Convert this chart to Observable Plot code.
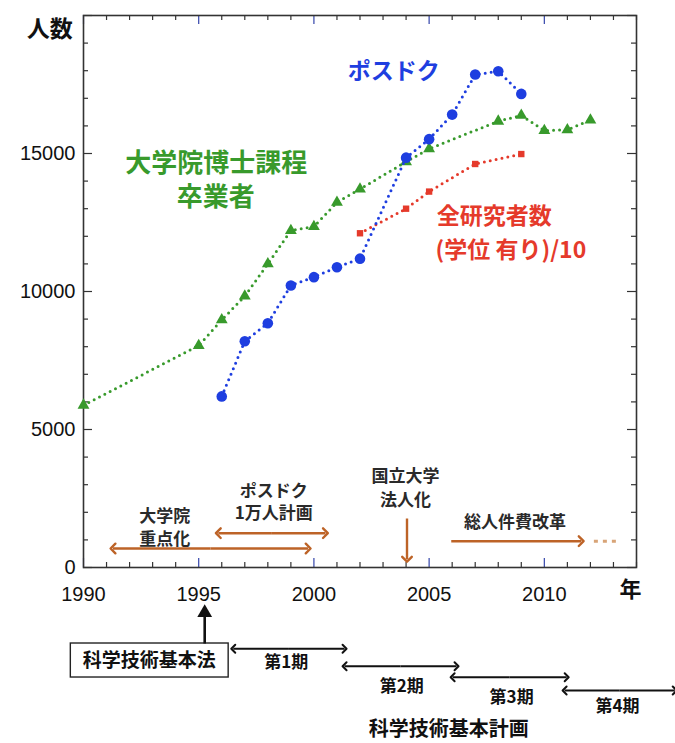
<!DOCTYPE html>
<html>
<head>
<meta charset="utf-8">
<script src="https://cdn.jsdelivr.net/npm/d3@7"></script>
<script src="https://cdn.jsdelivr.net/npm/@observablehq/plot@0.6"></script>
<style>
  html, body { margin: 0; padding: 0; background: #fff; }
  svg { display: block; }
</style>
</head>
<body>
<div id="chart"></div>
<script>
// ---- data ----
// 大学院博士課程卒業者
const gradYears  = [1990, 1995, 1996, 1997, 1998, 1999, 2000, 2001, 2002, 2004, 2005, 2008, 2009, 2010, 2011, 2012];
const gradValues = [5880, 8040, 8970, 9830, 11000, 12210, 12350, 13230, 13710, 14700, 15170, 16170, 16380, 15830, 15860, 16210];
// ポスドク
const postdocYears  = [1996, 1997, 1998, 1999, 2000, 2001, 2002, 2004, 2005, 2006, 2007, 2008, 2009];
const postdocValues = [6200, 8200, 8850, 10220, 10520, 10880, 11190, 14850, 15520, 16410, 17860, 17980, 17160];
// 全研究者数（学位 有り）/10
const resYears  = [2002, 2004, 2005, 2007, 2009];
const resValues = [12110, 13000, 13620, 14620, 14980];

// axis ticks
const yTickLabels = [0, 5000, 10000, 15000];
const xTickLabels = [1990, 1995, 2000, 2005, 2010];
const yTicks = d3.range(0, 20001, 1000);
const xTicks = d3.range(1990, 2015, 1);

// science & technology basic plan periods
const phaseNames = ["第1期", "第2期", "第3期", "第4期"];
const phaseStart = [1996.5, 2001.33, 2006.02, 2010.88];
const phaseEnd   = [2001.33, 2006.19, 2010.97, 2015.66];

// ---- build tables ----
const grad = gradYears.map((x, i) => ({x, y: gradValues[i]}));
const postdoc = postdocYears.map((x, i) => ({x, y: postdocValues[i]}));
const res = resYears.map((x, i) => ({x, y: resValues[i]}));

const yMajor = yTicks.filter(d => d % 5000 === 0);
const yMinor = yTicks.filter(d => d % 5000 !== 0);
const xMajor = xTicks.filter(d => d % 5 === 0);
const xMinor = xTicks.filter(d => d % 5 !== 0);

const phaseArrowY = [-2946, -3576, -3975, -4457];
const phaseLabelX = [1998.80, 2003.81, 2008.58, 2013.18];
const phaseLabelY = [-3431, -4312, -4699, -5036];
const phases = phaseNames.map((name, i) => ({
  name, x1: phaseStart[i], x2: phaseEnd[i], y: phaseArrowY[i], lx: phaseLabelX[i], ly: phaseLabelY[i]
}));

// ---- styles ----
const W = 675, H = 743;
const mL = 83, mR = 39, mT = 15, mB = 176;
const pw = W - mL - mR, ph = H - mT - mB;
const JP = "'Noto Sans CJK JP', 'Noto Sans', sans-serif";
const NUM = "'Liberation Sans', Arial, sans-serif";
const BLUE = "#1e3ee0", GREEN = "#389a2c", RED = "#e53a2b", BROWN = "#bd6327", AX = "#333";

const dotted = {strokeWidth: 3, strokeDasharray: "0 6", strokeLinecap: "round"};

// a double-headed arrow drawn as two links from the middle outwards
function doubleArrow(data, opts) {
  const {x1, x2, y, ...rest} = opts;
  const mid = d => (x1(d) + x2(d)) / 2;
  return [
    Plot.link(data, {x1: mid, x2: x1, y1: y, y2: y, markerEnd: "arrow", ...rest}),
    Plot.link(data, {x1: mid, x2: x2, y1: y, y2: y, markerEnd: "arrow", ...rest})
  ];
}

const chart = Plot.plot({
  width: W, height: H,
  marginLeft: mL, marginRight: mR, marginTop: mT, marginBottom: mB,
  style: {background: "#fff", fontFamily: NUM, fontSize: "20px", overflow: "visible"},
  x: {domain: [1990, 2014]},
  y: {domain: [0, 20000]},
  marks: [
    // axes
    Plot.axisX(xTickLabels, {tickSize: 0, tickPadding: 19, fontSize: 20, fontFamily: NUM, fill: "#111", tickFormat: d => String(d), label: null}),
    Plot.axisY(yTickLabels, {tickSize: 0, tickPadding: 8, fontSize: 20, fontFamily: NUM, fill: "#111", tickFormat: d => String(d), label: null}),
    // inward ticks
    Plot.tickY(yMinor, {y: d => d, insetRight: pw - 5, stroke: AX, strokeWidth: 1.2}),
    Plot.tickY(yMajor, {y: d => d, insetRight: pw - 9, stroke: AX, strokeWidth: 1.2}),
    Plot.tickY(yMinor, {y: d => d, insetLeft: pw - 5, stroke: AX, strokeWidth: 1.2}),
    Plot.tickY(yMajor, {y: d => d, insetLeft: pw - 9, stroke: AX, strokeWidth: 1.2}),
    Plot.tickX(xMinor, {x: d => d, insetTop: ph - 5, stroke: AX, strokeWidth: 1.2}),
    Plot.tickX(xMajor, {x: d => d, insetTop: ph - 9, stroke: "#3344aa", strokeWidth: 1.2}),
    Plot.tickX(xMinor, {x: d => d, insetBottom: ph - 5, stroke: AX, strokeWidth: 1.2}),
    Plot.tickX(xMajor, {x: d => d, insetBottom: ph - 9, stroke: "#3344aa", strokeWidth: 1.2}),
    Plot.frame({stroke: AX, strokeWidth: 1.6}),

    // series
    Plot.line(grad, {x: "x", y: "y", stroke: GREEN, ...dotted}),
    Plot.dot(grad, {x: "x", y: "y", symbol: "triangle", r: 4.4, fill: GREEN}),
    Plot.line(res, {x: "x", y: "y", stroke: RED, ...dotted}),
    Plot.dot(res, {x: "x", y: "y", symbol: "square", r: 3.6, fill: RED}),
    Plot.line(postdoc, {x: "x", y: "y", stroke: BLUE, ...dotted}),
    Plot.dot(postdoc, {x: "x", y: "y", r: 5.3, fill: BLUE}),

    // series labels
    Plot.text(["ポスドク"], {x: 2003.46, y: 17950, text: d => d, fill: BLUE, fontSize: 23, fontWeight: "bold", fontFamily: JP}),
    Plot.text(["大学院博士課程"], {x: 1995.76, y: 14620, text: d => d, fill: GREEN, fontSize: 26, fontWeight: "bold", fontFamily: JP}),
    Plot.text(["卒業者"], {x: 1995.74, y: 13400, text: d => d, fill: GREEN, fontSize: 26, fontWeight: "bold", fontFamily: JP}),
    Plot.text(["全研究者数"], {x: 2005.33, y: 12700, text: d => d, fill: RED, fontSize: 23, fontWeight: "bold", fontFamily: JP, textAnchor: "start"}),
    Plot.text(["(学位 有り)/10"], {x: 2005.28, y: 11470, text: d => d, fill: RED, fontSize: 23, fontWeight: "bold", fontFamily: JP, textAnchor: "start"}),

    // axis titles
    Plot.text(["人数"], {x: 1988.54, y: 19475, text: d => d, fill: "#111", fontSize: 23, fontWeight: "bold", fontFamily: JP}),
    Plot.text(["年"], {x: 2013.74, y: -797, text: d => d, fill: "#111", fontSize: 22, fontWeight: "bold", fontFamily: JP}),

    // policy annotations inside the frame
    Plot.text(["大学院"], {x: 1993.53, y: 1860, text: d => d, fill: "#2a2a2a", fontSize: 17, fontWeight: "bold", fontFamily: JP}),
    Plot.text(["重点化"], {x: 1993.53, y: 1030, text: d => d, fill: "#2a2a2a", fontSize: 17, fontWeight: "bold", fontFamily: JP}),
    ...doubleArrow([0], {x1: () => 1991.28, x2: () => 1999.75, y: () => 688, stroke: BROWN, strokeWidth: 2.4}),
    Plot.text(["ポスドク"], {x: 1998.26, y: 2760, text: d => d, fill: "#2a2a2a", fontSize: 17, fontWeight: "bold", fontFamily: JP}),
    Plot.text(["1万人計画"], {x: 1998.26, y: 1940, text: d => d, fill: "#2a2a2a", fontSize: 17, fontWeight: "bold", fontFamily: JP}),
    ...doubleArrow([0], {x1: () => 1995.85, x2: () => 2000.5, y: () => 1243, stroke: BROWN, strokeWidth: 2.4}),
    Plot.text(["国立大学"], {x: 2003.98, y: 3300, text: d => d, fill: "#2a2a2a", fontSize: 17, fontWeight: "bold", fontFamily: JP}),
    Plot.text(["法人化"], {x: 2003.98, y: 2420, text: d => d, fill: "#2a2a2a", fontSize: 17, fontWeight: "bold", fontFamily: JP}),
    Plot.link([0], {x1: 2004.04, x2: 2004.04, y1: 1775, y2: 300, stroke: BROWN, strokeWidth: 2.4, markerEnd: "arrow"}),
    Plot.text(["総人件費改革"], {x: 2008.73, y: 1641, text: d => d, fill: "#2a2a2a", fontSize: 17, fontWeight: "bold", fontFamily: JP}),
    Plot.link([0], {x1: 2005.96, x2: 2011.6, y1: 953, y2: 953, stroke: BROWN, strokeWidth: 2.4, markerEnd: "arrow"}),
    Plot.link([0], {x1: 2012.15, x2: 2013.15, y1: 953, y2: 953, stroke: "#d8a477", strokeWidth: 3, strokeDasharray: "4 5"}),

    // science & technology basic law / plans (below the axis)
    Plot.rect([0], {x1: 1989.45, x2: 1996.3, y1: -2754, y2: -3986, fill: "#fff", stroke: "#222", strokeWidth: 1.4}),
    Plot.text(["科学技術基本法"], {x: 1992.85, y: -3370, text: d => d, fill: "#111", fontSize: 19, fontWeight: "bold", fontFamily: JP}),
    Plot.link([0], {x1: 1995.26, x2: 1995.26, y1: -2754, y2: -1700, stroke: "#111", strokeWidth: 2.6}),
    Plot.dot([0], {x: 1995.26, y: -1640, symbol: "triangle", r: 5.5, fill: "#111"}),
    ...doubleArrow(phases, {x1: d => d.x1, x2: d => d.x2, y: d => d.y, stroke: "#111", strokeWidth: 2}),
    Plot.text(phases, {x: "lx", y: "ly", text: "name", fill: "#111", fontSize: 17, fontWeight: "bold", fontFamily: JP}),
    Plot.text(["科学技術基本計画"], {x: 2005.85, y: -5880, text: d => d, fill: "#111", fontSize: 20, fontWeight: "bold", fontFamily: JP})
  ]
});
document.getElementById("chart").appendChild(chart);
</script>
</body>
</html>
